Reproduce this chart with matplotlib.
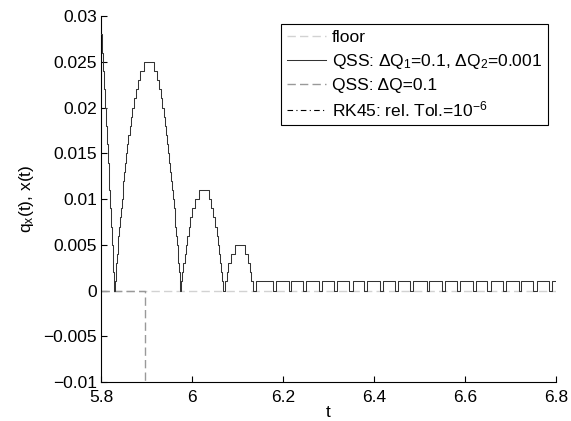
import numpy as np
import matplotlib
matplotlib.use("Agg")
import matplotlib.pyplot as plt
from matplotlib.lines import Line2D

plt.rcParams['font.family'] = ['Liberation Sans', 'DejaVu Sans']
plt.rcParams['mathtext.fontset'] = 'custom'
plt.rcParams['mathtext.rm'] = 'Liberation Sans'
plt.rcParams['mathtext.it'] = 'Liberation Sans'
plt.rcParams['axes.unicode_minus'] = True

# quantum of the position state
dQ2 = 0.001

# q level (in quanta) at t = 5.8 and switching times of the quantized position
q_start = 28
fall_down = [5.8011, 5.8022, 5.8034, 5.8046, 5.8057, 5.8069, 5.8080, 5.8091, 5.8102, 5.8113,
             5.8123, 5.8134, 5.8144, 5.8155, 5.8165, 5.8175, 5.8185, 5.8195, 5.8205, 5.8215,
             5.8225, 5.8234, 5.8244, 5.8253, 5.8262, 5.8272, 5.8281, 5.8290]
arc1_up = [5.8305, 5.8319, 5.8335, 5.8350, 5.8366, 5.8382, 5.8399, 5.8416, 5.8434, 5.8452,
           5.8471, 5.8490, 5.8511, 5.8532, 5.8554, 5.8577, 5.8601, 5.8628, 5.8655, 5.8686,
           5.8719, 5.8757, 5.8801, 5.8857, 5.8950]
arc1_down = [5.9173, 5.9229, 5.9273, 5.9311, 5.9344, 5.9375, 5.9403, 5.9429, 5.9453, 5.9476,
             5.9498, 5.9520, 5.9540, 5.9559, 5.9578, 5.9596, 5.9614, 5.9631, 5.9648, 5.9664,
             5.9680, 5.9696, 5.9711, 5.9726, 5.9740]
arc2_up = [5.9762, 5.9785, 5.9809, 5.9834, 5.9862, 5.9891, 5.9924, 5.9961, 6.0005, 6.0060, 6.0152]
arc2_down = [6.0371, 6.0426, 6.0469, 6.0506, 6.0539, 6.0568, 6.0596, 6.0621, 6.0646, 6.0668, 6.0690]
arc3_up = [6.0722, 6.0758, 6.0800, 6.0853, 6.0935]
arc3_down = [6.1172, 6.1224, 6.1266, 6.1302, 6.1334]
# chattering between 0 and 1 quantum once the ball rests on the floor
rest_up = [6.1407, 6.1846, 6.2182, 6.2506, 6.2857, 6.3193, 6.3532, 6.3853, 6.4191, 6.4528,
           6.4864, 6.5215, 6.5554, 6.5890, 6.6242, 6.6565, 6.6901, 6.7237, 6.7576, 6.7912]
rest_down = [6.1774, 6.2125, 6.2446, 6.2785, 6.3121, 6.3457, 6.3780, 6.4132, 6.4468, 6.4791,
             6.5158, 6.5495, 6.5831, 6.6169, 6.6490, 6.6842, 6.7180, 6.7501, 6.7853]

# QSS with a single quantum dQ = 0.1
qss1_t = [5.8, 5.897, 5.897]
qss1_q = [0.0, 0.0, -0.1]

floor_t = [5.8, 6.8]
floor_y = [0.0, 0.0]

t_end = 6.8

yticks = [-0.01, -0.005, 0, 0.005, 0.01, 0.015, 0.02, 0.025, 0.03]
ylabels = ['\u22120.01', '\u22120.005', '0', '0.005', '0.01', '0.015', '0.02', '0.025', '0.03']
xticks = [5.8, 6.0, 6.2, 6.4, 6.6, 6.8]
xlabels = ['5.8', '6', '6.2', '6.4', '6.6', '6.8']


def build_q():
    tt = [5.8]
    qq = [q_start]
    lev = q_start
    for t in fall_down:
        lev -= 1
        tt.append(t); qq.append(lev)
    for up, down in [(arc1_up, arc1_down), (arc2_up, arc2_down), (arc3_up, arc3_down)]:
        for t in up:
            lev += 1
            tt.append(t); qq.append(lev)
        for t in down:
            lev -= 1
            tt.append(t); qq.append(lev)
    for i, t in enumerate(rest_up):
        tt.append(t); qq.append(1)
        if i < len(rest_down):
            tt.append(rest_down[i]); qq.append(0)
    tt.append(t_end); qq.append(qq[-1])
    return np.array(tt), np.array(qq) * dQ2


t_q, q = build_q()

fs = 12.5
fig = plt.figure(figsize=(5.71, 4.21), dpi=100)
ax = fig.add_axes([0.177, 0.0926, 0.797, 0.869])

ax.plot(floor_t, floor_y, color='#d2d2d2', lw=1.0, dashes=(6, 3), zorder=1)
ax.plot(qss1_t, qss1_q, color='#999999', lw=1.0, dashes=(6, 3), zorder=2)
ax.plot(t_q, q, color='#333333', lw=0.75, drawstyle='steps-post', zorder=3)

ax.set_xlim(5.8, 6.8)
ax.set_ylim(-0.01, 0.03)
ax.set_xticks(xticks)
ax.set_xticklabels(xlabels)
ax.set_yticks(yticks)
ax.set_yticklabels(ylabels)
ax.tick_params(direction='in', length=4, width=0.8, labelsize=fs)
ax.tick_params(axis='x', pad=5.5)
ax.tick_params(axis='y', pad=3)
for s in ['top', 'right']:
    ax.spines[s].set_visible(False)
for s in ['left', 'bottom']:
    ax.spines[s].set_linewidth(0.8)

ax.set_xlabel('t', fontsize=fs, labelpad=0)
ax.set_ylabel('q$_\\mathregular{x}$(t), x(t)', fontsize=fs, labelpad=5)

handles = [
    Line2D([], [], color='#d2d2d2', lw=1.0, dashes=(6, 3)),
    Line2D([], [], color='#333333', lw=0.75),
    Line2D([], [], color='#999999', lw=1.0, dashes=(6, 3)),
    Line2D([], [], color='black', lw=0.8, dashes=(5, 3, 1, 3)),
]
labels = ['floor',
          'QSS: \u0394Q$_\\mathregular{1}$=0.1, \u0394Q$_\\mathregular{2}$=0.001',
          'QSS: \u0394Q=0.1',
          'RK45: rel. Tol.=10$^\\mathregular{-6}$']
leg = ax.legend(handles, labels, loc='upper right', bbox_to_anchor=(0.982, 0.978),
                fontsize=fs, fancybox=False, framealpha=1, edgecolor='black',
                handlelength=2.2, handletextpad=0.35, labelspacing=0.38,
                borderpad=0.35, borderaxespad=0)
leg.get_frame().set_linewidth(0.8)

fig.savefig('out.png', dpi=100)
